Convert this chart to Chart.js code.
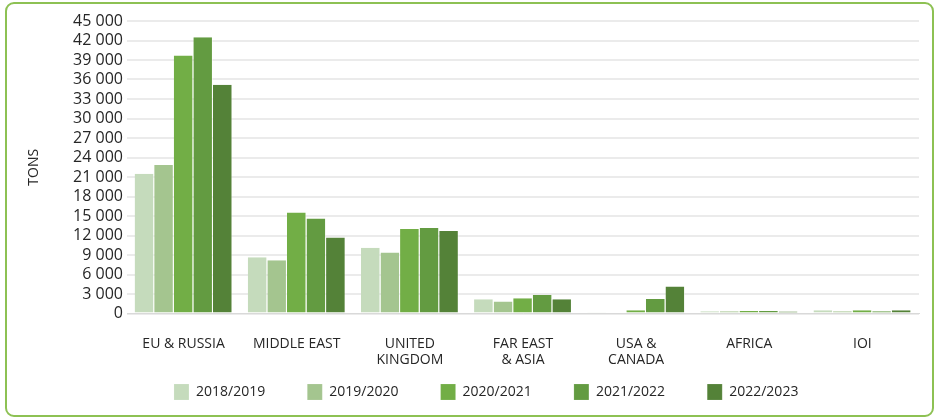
<!DOCTYPE html>
<html>
<head>
<meta charset="utf-8">
<script src="https://cdn.jsdelivr.net/npm/chart.js@4/dist/chart.umd.min.js"></script>
<style>
  html, body { margin: 0; padding: 0; background: #fff; }
  #wrap { position: relative; width: 935px; height: 418px; }
  #frame {
    position: absolute; left: 5px; top: 2px; width: 925px; height: 411px;
    border: 2px solid #8dc153; border-radius: 9px; pointer-events: none;
  }
  canvas { position: absolute; left: 0; top: 0; }
</style>
</head>
<body>
<div id="wrap">
  <canvas id="exportChart" width="935" height="418"></canvas>
  <div id="frame"></div>
</div>
<script>
// regions
var regions = ['EU & RUSSIA', 'MIDDLE EAST', ['UNITED', 'KINGDOM'], ['FAR EAST', '& ASIA'], ['USA &', 'CANADA'], 'AFRICA', 'IOI'];

// seasons and tons per region
var seasons = ['2018/2019', '2019/2020', '2020/2021', '2021/2022', '2022/2023'];
var tons1819 = [21500, 8650, 10100, 2200, 200, 350, 500];
var tons1920 = [22850, 8200, 9400, 1850, 150, 350, 350];
var tons2021 = [39700, 15550, 13000, 2350, 500, 400, 500];
var tons2122 = [42500, 14600, 13150, 2850, 2250, 400, 350];
var tons2223 = [35200, 11700, 12700, 2200, 4150, 300, 500];

var seasonColors = ['#c5dbbc', '#a4c58f', '#72ae46', '#639b41', '#548238'];

var yMax = 45000;
var yStep = 3000;

var font = "'Open Sans', 'Noto Sans', sans-serif";
var textColor = '#262626';

function makeSet(i, values) {
    return {
        label: seasons[i],
        data: values,
        backgroundColor: seasonColors[i],
        borderColor: 'rgba(255,255,255,0.55)',
        borderWidth: { top: 0, right: 1, bottom: 0, left: 0 },
        borderSkipped: false,
        categoryPercentage: 0.865,
        barPercentage: 1
    };
}

var ctx = document.getElementById('exportChart').getContext('2d');
new Chart(ctx, {
    type: 'bar',
    data: {
        labels: regions,
        datasets: [
            makeSet(0, tons1819),
            makeSet(1, tons1920),
            makeSet(2, tons2021),
            makeSet(3, tons2122),
            makeSet(4, tons2223)
        ]
    },
    options: {
        responsive: false,
        animation: false,
        devicePixelRatio: 1,
        layout: { padding: { left: 20, right: 16, top: 21, bottom: 8 } },
        plugins: {
            legend: {
                position: 'bottom',
                align: 'center',
                fullSize: false,
                labels: {
                    boxWidth: 15,
                    boxHeight: 16,
                    padding: 17.5,
                    color: textColor,
                    font: { family: font, size: 14 },
                    // wider gaps between items, the last one pushes the row left
                    generateLabels: function (chart) {
                        var items = Chart.defaults.plugins.legend.labels.generateLabels(chart);
                        items.forEach(function (it, i) {
                            it.text += (i < items.length - 1) ? '\u2003\u2002 ' : '\u2003\u2003\u2003\u2003\u2003 ';
                        });
                        return items;
                    }
                }
            },
            tooltip: { enabled: false }
        },
        scales: {
            x: {
                grid: { display: false, drawTicks: false },
                border: { display: true, color: '#d9d9d9' },
                ticks: {
                    padding: 23,
                    color: textColor,
                    maxRotation: 0,
                    autoSkip: false,
                    font: { family: font, size: 14, lineHeight: 1.1 }
                },
                afterFit: function (scale) { scale.height = 53; }
            },
            y: {
                min: 0,
                max: yMax,
                grid: { color: '#ebebeb', lineWidth: 2, drawTicks: false },
                border: { display: false },
                ticks: {
                    stepSize: yStep,
                    autoSkip: false,
                    padding: 4,
                    color: textColor,
                    font: { family: font, size: 16 },
                    callback: function (v) {
                        return String(v).replace(/\B(?=(\d{3})+(?!\d))/g, ' ');
                    }
                },
                title: {
                    display: true,
                    text: 'TONS',
                    color: textColor,
                    padding: { top: 6, bottom: 0 },
                    font: { family: font, size: 14 }
                },
                afterFit: function (scale) { scale.width = 107; }
            }
        }
    }
});
</script>
</body>
</html>
